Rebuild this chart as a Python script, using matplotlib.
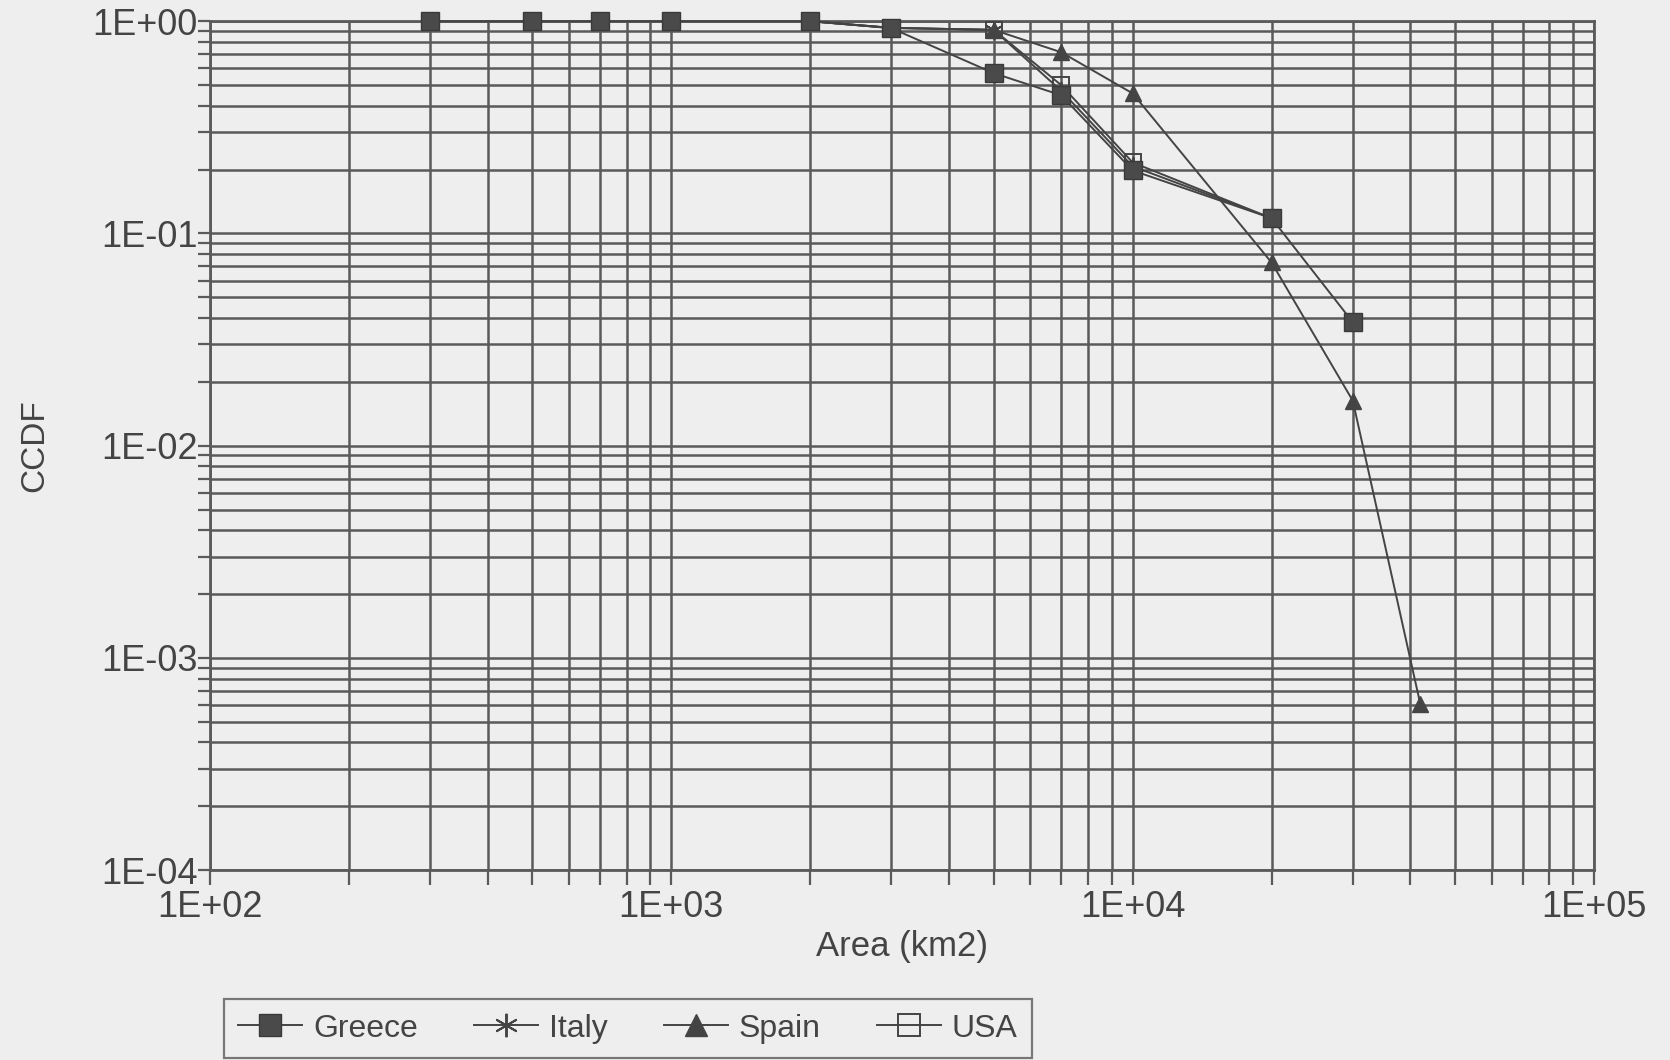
import numpy as np
import matplotlib.pyplot as plt

plt.rcParams['font.family'] = ['Liberation Sans', 'DejaVu Sans']

# values
area_greece = [300, 500, 700, 1000, 2000, 3000, 5000, 7000, 10000, 20000, 30000]
ccdf_greece = [1.0, 1.0, 1.0, 1.0, 1.0, 0.927, 0.569, 0.448, 0.198, 0.118, 0.0382]

area_italy = [2000, 3000, 5000, 7000, 10000, 20000]
ccdf_italy = [1.0, 0.93, 0.91, 0.47, 0.207, 0.118]

area_spain = [2000, 3000, 5000, 7000, 10000, 20000, 30000, 42000]
ccdf_spain = [1.0, 0.93, 0.91, 0.714, 0.457, 0.073, 0.0163, 0.00061]

area_usa = [2000, 3000, 5000, 7000, 10000, 20000]
ccdf_usa = [1.0, 0.93, 0.91, 0.50, 0.216, 0.118]

bg = '#eeeeee'
ink = '#444444'
grid_col = '#5a5a5a'

fig = plt.figure(figsize=(16.7, 10.6), dpi=100, facecolor=bg)
ax = fig.add_axes([0.1257, 0.179, 0.8288, 0.801])
ax.set_facecolor(bg)

ax.plot(area_usa, ccdf_usa, color=ink, lw=1.4, marker='s', ms=12,
        mfc='none', mec=ink, mew=1.4, label='USA', zorder=4, clip_on=False)
ax.plot(area_italy, ccdf_italy, color=ink, lw=1.4, marker=(6, 2, 0), ms=13,
        mec=ink, mew=1.4, label='Italy', zorder=4, clip_on=False)
ax.plot(area_spain, ccdf_spain, color=ink, lw=1.4, marker='^', ms=12,
        mfc=ink, mec=ink, label='Spain', zorder=5, clip_on=False)
ax.plot(area_greece, ccdf_greece, color=ink, lw=1.4, marker='s', ms=12.5,
        mfc='#4a4a4a', mec='#3a3a3a', label='Greece', zorder=6, clip_on=False)

ax.set_xscale('log')
ax.set_yscale('log')
ax.set_xlim(1e2, 1e5)
ax.set_ylim(1e-4, 1e0)

ax.set_xticks([1e2, 1e3, 1e4, 1e5])
ax.set_xticklabels(['1E+02', '1E+03', '1E+04', '1E+05'])
ax.set_yticks([1e-4, 1e-3, 1e-2, 1e-1, 1e0])
ax.set_yticklabels(['1E-04', '1E-03', '1E-02', '1E-01', '1E+00'])

ax.grid(True, which='both', color=grid_col, lw=1.8)
ax.set_axisbelow(True)
for s in ax.spines.values():
    s.set_color(grid_col)
    s.set_linewidth(2.0)

ax.tick_params(axis='both', which='both', colors=grid_col, labelcolor=ink,
               width=1.6, labelsize=26)
ax.tick_params(axis='x', which='both', length=11, direction='out', pad=3)
ax.tick_params(axis='y', which='both', length=9, direction='out', pad=0)

ax.set_xlabel('Area (km2)', fontsize=25, color=ink, labelpad=4)
ax.set_ylabel('CCDF', fontsize=24, color=ink, labelpad=30)

handles, labels = ax.get_legend_handles_labels()
order = [labels.index(n) for n in ['Greece', 'Italy', 'Spain', 'USA']]
leg = fig.legend([handles[i] for i in order], [labels[i] for i in order],
                 loc='lower left', bbox_to_anchor=(0.134, 0.002, 0.484, 0.05),
                 mode='expand', ncol=4,
                 fontsize=23, frameon=True, fancybox=False, handlelength=2.0,
                 handletextpad=0.35, columnspacing=1.5, borderpad=0.45,
                 borderaxespad=0.0, markerscale=1.3, labelcolor=ink)
leg.get_frame().set_edgecolor(grid_col)
leg.get_frame().set_facecolor(bg)
leg.get_frame().set_linewidth(1.6)

fig.savefig('out.png', dpi=100, facecolor=bg)
